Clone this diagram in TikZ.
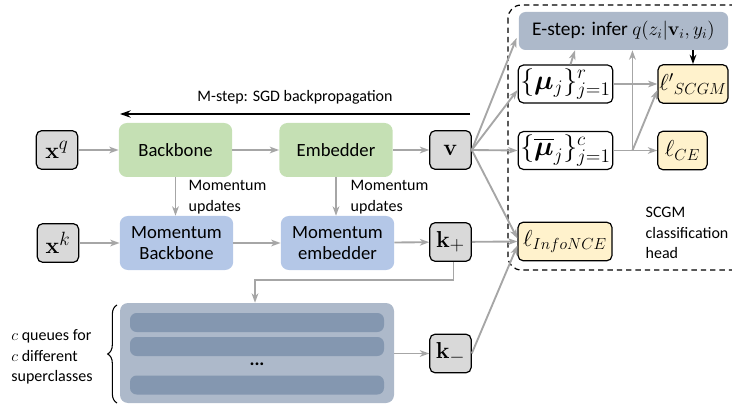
\documentclass[tikz,border=0pt]{standalone}
\usepackage[no-math]{fontspec}
\setmainfont{Carlito}
\usepackage{amsmath,bm}
\usetikzlibrary{arrows.meta,calc,decorations.pathreplacing}
\definecolor{netgreen}{HTML}{C5E0B4}
\definecolor{netblue}{HTML}{B4C7E7}
\definecolor{vecgray}{HTML}{D9D9D9}
\definecolor{lossyellow}{HTML}{FFF2CC}
\definecolor{steel}{HTML}{ADB9CA}
\definecolor{darksteel}{HTML}{8497B0}
\definecolor{arrgray}{HTML}{A6A6A6}

\begin{document}
\begin{tikzpicture}[x=0.75pt,y=-0.75pt,
	net/.style={rounded corners=6pt,minimum width=85pt,minimum height=40.5pt,align=center,font=\fontsize{14}{16}\selectfont},
	vec/.style={draw,fill=vecgray,line width=0.9pt,rounded corners=4pt,minimum width=31pt,minimum height=29pt,inner sep=0pt,font=\fontsize{19}{21}\selectfont},
	set/.style={draw,fill=white,line width=0.9pt,rounded corners=4pt,minimum width=71pt,minimum height=28.5pt,inner sep=0pt,font=\fontsize{20.5}{22}\selectfont},
	loss/.style={draw,fill=lossyellow,line width=0.9pt,rounded corners=4pt,minimum height=29pt,inner sep=0pt,font=\fontsize{18.5}{20}\selectfont},
	lbl/.style={font=\fontsize{12}{15.5}\selectfont,align=left},
	arr/.style={draw=arrgray,line width=1.4pt,-{Stealth[length=7pt,width=5pt,inset=2pt]}},
	]
	\useasboundingbox (0,0) rectangle (732,406);
	%classification head
	\draw[dashed,dash pattern=on 4pt off 3pt,line width=0.9pt,rounded corners=10pt] (508,5) rectangle (745,270);
	\node[fill=steel,rounded corners=5pt,minimum width=157pt,minimum height=28.5pt,font=\fontsize{14.5}{16}\selectfont] (estep) at (623.5,31) {E-step: infer $q(z_i|\mathbf{v}_i,y_i)$};
	\node[set] (mur) at (565.5,84) {$\{\bm{\mu}_j\}_{j=1}^r$};
	\node[set] (mub) at (565.5,150.5) {$\{\overline{\bm{\mu}}_j\}_{j=1}^c$};
	\node[loss,minimum width=52.5pt] (lscgm) at (693,84) {${\ell'}_{SCGM}$};
	\node[loss,minimum width=37pt] (lce) at (682.5,150.5) {$\ell_{CE}$};
	\node[loss,minimum width=70.5pt] (lnce) at (565,241.5) {$\ell_{InfoNCE}$};
	\node[lbl,anchor=west] (headlbl) at (641,233) {SCGM\\classification\\head};
	%query branch
	\node[vec] (xq) at (57,150) {$\mathbf{x}^q$};
	\node[net,fill=netgreen] (backbone) at (175.5,150) {Backbone};
	\node[net,fill=netgreen] (embedder) at (336,150) {Embedder};
	\node[vec] (v) at (450.5,150) {$\mathbf{v}$};
	%key branch
	\node[vec] (xk) at (58,243) {$\mathbf{x}^k$};
	\node[net,fill=netblue] (mbackbone) at (176.5,243) {Momentum\\Backbone};
	\node[net,fill=netblue] (membedder) at (337.5,243) {Momentum\\embedder};
	\node[vec] (kp) at (450.5,242) {$\mathbf{k}_+$};
	%queues
	\node[fill=steel,rounded corners=6pt,minimum width=205.5pt,minimum height=75pt] (queue) at (257,353) {};
	\foreach \y/\n in {322.5/1,346.5/2,385/3}
		\node[fill=darksteel,rounded corners=5pt,minimum width=190.5pt,minimum height=14.25pt] (bar\n) at (257,\y) {};
	\node[font=\fontsize{14}{16}\selectfont\bfseries] (dots) at (257,364) {...};
	\node[vec] (km) at (450.5,353.5) {$\mathbf{k}_-$};
	\coordinate (bb) at (117,403);
	\coordinate (bt) at (117,305);
	\draw[decorate,decoration={brace,amplitude=7pt},line width=0.8pt] (bb) -- (bt);
	\node[lbl] (qlbl) at (52,357) {$c$ queues for\\$c$ different\\superclasses};
	%M-step
	\coordinate (mstart) at (470,114);
	\coordinate (mend) at (120,114);
	\draw[line width=1.6pt,-{Stealth[length=8pt,width=5.5pt]}] (mstart) -- (mend);
	\node[lbl] (mlbl) at (295,97) {M-step: SGD backpropagation};
	%forward
	\draw[arr] (xq) -- (backbone);
	\draw[arr] (backbone) -- (embedder);
	\draw[arr] (embedder) -- (v);
	\draw[arr] (xk) -- (mbackbone);
	\draw[arr] (mbackbone) -- (membedder);
	\draw[arr] (membedder) -- (kp);
	\draw[arr] (backbone.south) -- (backbone.south |- mbackbone.north);
	\draw[arr] (embedder.south) -- (embedder.south |- membedder.north);
	\node[lbl,anchor=west] (upd1) at (184,197) {Momentum\\updates};
	\node[lbl,anchor=west] (upd2) at (346,197) {Momentum\\updates};
	\draw[arr] ($(kp.south)+(3,0)$) -- ++(0,18) -| ($(queue.north)+(-2,0)$);
	\draw[arr] (queue.east |- km) -- (km);
	%to the head
	\draw[arr] (v.east) -- ($(estep.west)+(-2,7)$);
	\draw[arr] (v.east) -- ($(mur.west)+(0,6)$);
	\draw[arr] (v.east) -- (mub.west);
	\draw[arr] (v.east) -- ($(lnce.west)+(0,-3)$);
	\draw[arr] (kp) -- (lnce.west);
	\draw[arr] (km.east) -- ($(lnce.west)+(0,4)$);
	\draw[arr] ($(mur.north)+(5,0)$) -- ($(estep.south)+(-48.5,0)$);
	\draw[arr] (mur) -- (lscgm);
	\draw[arr] (mub) -- (lce);
	\coordinate (jn) at ($(mub.east)+(19,0)$);
	\draw[arr] (jn) -- (jn |- estep.south);
	\draw[arr] (jn) -- ($(lscgm.west)+(0,6)$);
	\draw[line width=1.2pt,-{Stealth[length=7pt,width=5pt]}] (lscgm.north |- estep.south) -- (lscgm.north);
\end{tikzpicture}
\end{document}
